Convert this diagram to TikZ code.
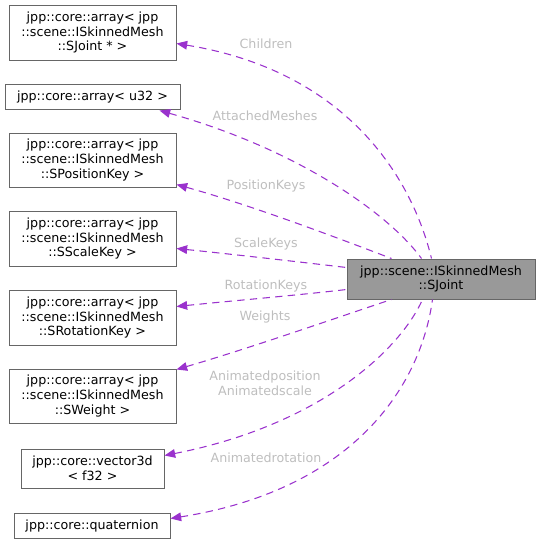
\documentclass[tikz,border=0pt]{standalone}
\usepackage{fontspec}
\setmainfont{DejaVu Sans}
\usetikzlibrary{arrows.meta,calc}
\definecolor{boxline}{HTML}{666666}
\definecolor{mainfill}{HTML}{999999}
\definecolor{edgecol}{HTML}{9A32CD}
\definecolor{labcol}{HTML}{BEBEBE}
\tikzset{
  box/.style={draw=boxline, fill=white, line width=0.75pt, align=center, inner sep=0pt,
    font=\fontsize{9.5}{10.9}\selectfont},
  mainbox/.style={box, fill=mainfill},
  lab/.style={text=labcol, align=center, inner sep=0pt, font=\fontsize{9.5}{10.9}\selectfont},
  rel/.style={draw=edgecol, line width=0.8pt, dash pattern=on 5.5pt off 4pt,
    {Triangle[length=8pt,width=6.5pt,fill=edgecol]}-},
}
\begin{document}
\begin{tikzpicture}[x=0.75pt,y=-0.75pt]
\useasboundingbox (0,0) rectangle (540,544);
% nodes
\node[box, minimum width=125.25pt, minimum height=41.25pt] (n1) at (92.5,32.5) {jpp::core::array\textless{} jpp\\::scene::ISkinnedMesh\\::SJoint * \textgreater};
\node[box, minimum width=131.25pt, minimum height=18.75pt] (n2) at (92.5,96.5) {jpp::core::array\textless{} u32 \textgreater};
\node[box, minimum width=125.25pt, minimum height=40.5pt] (n3) at (92.5,160) {jpp::core::array\textless{} jpp\\::scene::ISkinnedMesh\\::SPositionKey \textgreater};
\node[box, minimum width=125.25pt, minimum height=41.25pt] (n4) at (92.5,238.5) {jpp::core::array\textless{} jpp\\::scene::ISkinnedMesh\\::SScaleKey \textgreater};
\node[box, minimum width=125.25pt, minimum height=41.25pt] (n5) at (92.5,317.5) {jpp::core::array\textless{} jpp\\::scene::ISkinnedMesh\\::SRotationKey \textgreater};
\node[box, minimum width=125.25pt, minimum height=40.5pt] (n6) at (92.5,396) {jpp::core::array\textless{} jpp\\::scene::ISkinnedMesh\\::SWeight \textgreater};
\node[box, minimum width=107.25pt, minimum height=29.25pt] (n7) at (92.5,468.5) {jpp::core::vector3d\\\textless{} f32 \textgreater};
\node[box, minimum width=117pt, minimum height=18.75pt] (n8) at (92,525.5) {jpp::core::quaternion};
\node[mainbox, minimum width=141pt, minimum height=30pt] (main) at (441,279) {jpp::scene::ISkinnedMesh\\::SJoint};
% edges
\draw[rel] ($(n1.north east)+(0,39)$) .. controls (340,70) and (410,170) .. ($(main.north west)+(85,0)$);
\draw[rel] ($(n2.south east)+(-21,1)$) .. controls (300,150) and (390,215) .. ($(main.north west)+(75,0)$);
\draw[rel] ($(n3.south east)+(0,-3)$) .. controls (250,205) and (330,235) .. ($(main.north west)+(45,0)$);
\draw[rel] ($(n4.north east)+(0,38)$) .. controls (230,254) and (300,262) .. ($(main.north west)+(0,9)$);
\draw[rel] ($(n5.north east)+(0,17)$) .. controls (230,301) and (300,295) .. ($(main.north west)+(0,31)$);
\draw[rel] ($(n6.north east)+(0,1)$) .. controls (250,348) and (330,320) .. ($(main.south west)+(45,0)$);
\draw[rel] ($(n7.north east)+(0,7)$) .. controls (320,425) and (400,350) .. ($(main.south west)+(76,0)$);
\draw[rel] ($(n8.north east)+(0,6)$) .. controls (350,490) and (420,390) .. ($(main.south west)+(86,0)$);
% labels
\node[lab] (l1) at (266,44) {Children};
\node[lab] (l2) at (265,116) {AttachedMeshes};
\node[lab] (l3) at (266,186) {PositionKeys};
\node[lab] (l4) at (266,244) {ScaleKeys};
\node[lab] (l5) at (266,286) {RotationKeys};
\node[lab] (l6) at (265,317) {Weights};
\node[lab] (l7) at (265,383.5) {Animatedposition\\Animatedscale};
\node[lab] (l8) at (266,458) {Animatedrotation};
\end{tikzpicture}
\end{document}
